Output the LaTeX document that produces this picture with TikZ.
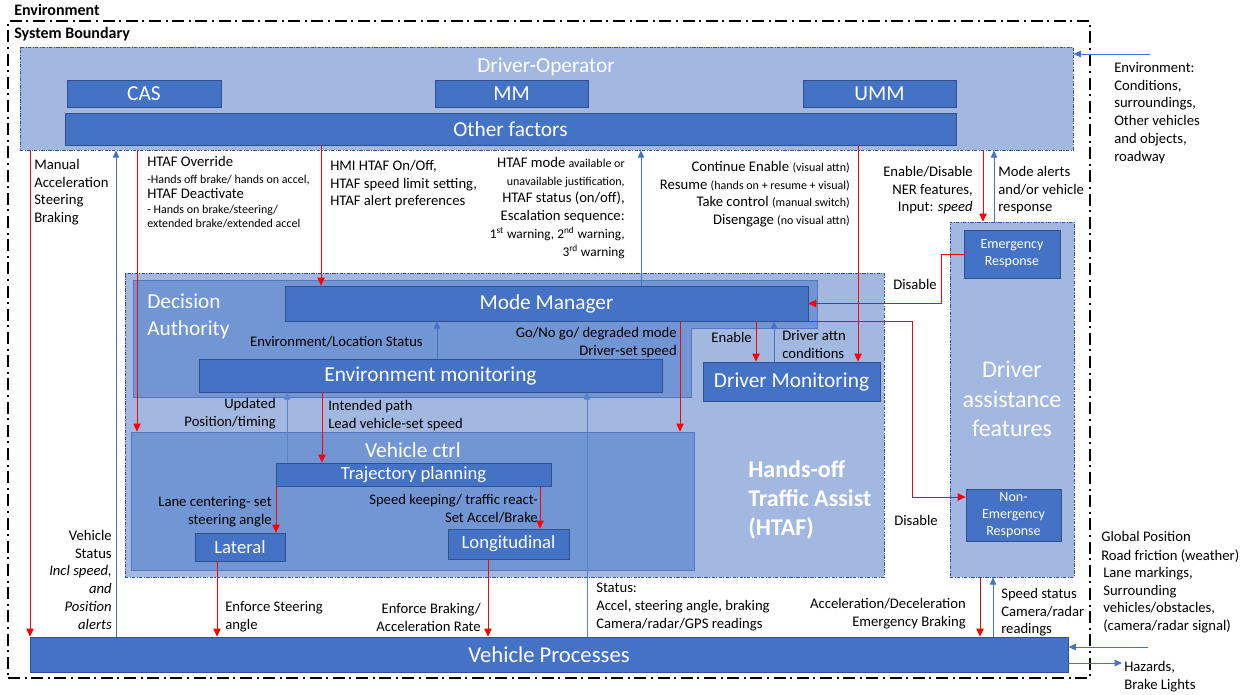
\documentclass[tikz,border=0pt]{standalone}
\usepackage{fontspec}
\setmainfont{Carlito}
\usetikzlibrary{arrows.meta,fit}

\definecolor{panelfill}{HTML}{A2B8E1}
\definecolor{midfill}{HTML}{7196D3}
\definecolor{midedge}{HTML}{5577BD}
\definecolor{darkfill}{HTML}{4472C4}
\definecolor{darkedge}{HTML}{2F528F}
\definecolor{dashblue}{HTML}{2F5597}
\definecolor{arrowblue}{HTML}{4472C4}
\definecolor{faintblue}{HTML}{5A82C9}

\newcommand{\ftbig}{\fontsize{16}{19.5}\selectfont}
\newcommand{\ftvp}{\fontsize{17}{20}\selectfont}
\newcommand{\ftmed}{\fontsize{14}{17}\selectfont}
\newcommand{\ftnorm}{\fontsize{11}{13.3}\selectfont}
\newcommand{\ftsm}{\fontsize{9}{11}\selectfont}
\newcommand{\ftten}{\fontsize{10}{12}\selectfont}
\newcommand{\ftbox}{\fontsize{10.5}{12.75}\selectfont}
\newcommand{\fthuge}{\fontsize{18}{22}\selectfont}

\tikzset{
  envline/.style={draw=black, line width=1.1pt, dash pattern=on 9pt off 3.5pt on 1.4pt off 3.5pt, inner sep=0pt},
  panel/.style={draw=dashblue, fill=panelfill, line width=0.6pt, dash pattern=on 2.5pt off 1pt on 0.8pt off 1pt, inner sep=0pt},
  midbox/.style={draw=midedge, fill=midfill, line width=0.6pt, inner sep=0pt},
  darkbox/.style={draw=darkedge, fill=darkfill, line width=0.6pt, text=white, inner sep=0pt},
  sz/.style 2 args={minimum width={#1*0.75pt}, minimum height={#2*0.75pt}},
  ra/.style={draw=red, line width=0.75pt, -{Triangle[length=6pt,width=5.5pt]}},
  ba/.style={draw=arrowblue, line width=0.75pt, -{Triangle[length=5.5pt,width=4.8pt]}},
  bf/.style={draw=faintblue, line width=0.75pt, -{Triangle[length=5.5pt,width=4.8pt]}},
  lbl/.style={inner sep=0pt, font=\ftnorm, text=black},
  wlbl/.style={inner sep=0pt, text=white},
}

\begin{document}
\begin{tikzpicture}[x=0.75pt,y=-0.75pt]
\useasboundingbox[fill=white] (0,0) rectangle (1248,694);

% environment / system boundary
\node[envline, fit={(8,21)(1090,678)}] (envb) {};
\node[anchor=west, inner sep=0pt, font=\fontsize{12}{14}\selectfont\bfseries] (envt) at (14,10) {Environment};
\node[anchor=west, inner sep=0pt, font=\fontsize{12}{14}\selectfont\bfseries] (sbt) at (14,34) {System Boundary};

% large panels
\node[panel, fit={(20,47)(1073,150)}] (drvop) {};
\node[panel, fit={(125,273)(884,577)}] (htaf) {};
\node[panel, fit={(950,222)(1074,577)}] (dafeat) {};

% decision authority outline and vehicle control block
\draw[midbox] (133,280) -- (817,280) -- (817,328) -- (691,328) -- (691,397) -- (133,397) -- cycle;
\node[midbox, fit={(131,432)(694,570)}] (vctrl) {};

% driver-operator contents
\node[wlbl, font=\ftbig] (drvoplbl) at (546,67) {Driver-Operator};
\node[darkbox, sz={154}{27}, font=\ftbig] (cas) at (144,93.5) {CAS};
\node[darkbox, sz={153}{27}, font=\ftbig] (mmx) at (511.5,93.5) {MM};
\node[darkbox, sz={153}{27}, font=\ftbig] (umm) at (879.5,93.5) {UMM};
\node[darkbox, sz={891}{32}, font=\ftbig] (other) at (510.5,129) {Other factors};

% HTAF contents
\node[darkbox, sz={523}{35}, font=\ftbig] (mm) at (546.5,303.5) {Mode Manager};
\node[darkbox, sz={463}{33}, font=\ftbig] (envmon) at (430.5,375.5) {Environment monitoring};
\node[darkbox, sz={177}{39}, font=\ftbig] (dm) at (791.5,381.5) {Driver Monitoring};
\node[wlbl, font=\ftbig] (vctrllbl) at (413,450) {Vehicle ctrl};
\node[darkbox, sz={275}{23}, font=\ftmed] (tp) at (413.5,474.5) {Trajectory planning};
\node[darkbox, sz={90}{28}, font=\ftmed] (lat) at (240,547) {Lateral};
\node[darkbox, sz={121}{30}, font=\ftmed] (lon) at (508.5,544) {Longitudinal};
\node[wlbl, anchor=north west, align=left, font=\ftbig] (dalbl) at (147,294) {Decision\\[0.5pt]Authority};
\node[wlbl, anchor=north west, align=left, font=\fthuge\bfseries] (htaflbl) at (748,460) {Hands-off\\Traffic Assist\\(HTAF)};

% driver assistance features
\node[darkbox, sz={96}{48}, font=\ftbox, align=center] (er) at (1012,254) {Emergency\\Response};
\node[darkbox, sz={95}{52}, font=\ftbox, align=center] (ner) at (1013.5,515) {Non-\\Emergency\\Response};
\node[wlbl, align=center, font=\fthuge] (dalbl2) at (1012,399) {Driver\\assistance\\features};

% vehicle processes
\node[darkbox, sz={1038}{35}, font=\ftvp] (vp) at (549,654.5) {Vehicle Processes};

% vertical connector lines
\foreach \xx in {30,116,137,321,641,858,983,994,437,680,756,774,287,322,587,276,540,217,488,980,993}
  \coordinate (x\xx) at (\xx,0);

\draw[ra] (drvop.south -| x30) -- (vp.north -| x30);
\draw[ba] (vp.north -| x116) -- (drvop.south -| x116);
\draw[ra] (drvop.south -| x137) -- (vctrl.north -| x137);
\draw[ra] (other.south -| x321) -- (mm.north -| x321);
\draw[ba] (mm.north -| x641) -- (drvop.south -| x641);
\draw[ra] (other.south -| x858) -- (dm.north -| x858);
\draw[ra] (drvop.south -| x983) -- (dafeat.north -| x983);
\draw[ba] (dafeat.north -| x994) -- (drvop.south -| x994);

\draw[ba] (envmon.north -| x437) -- (mm.south -| x437);
\draw[ra] (mm.south -| x680) -- (vctrl.north -| x680);
\draw[ra] (mm.south -| x756) -- (dm.north -| x756);
\draw[ba] (dm.north -| x774) -- (mm.south -| x774);
\draw[bf] (tp.north -| x287) -- (envmon.south -| x287);
\draw[ra] (envmon.south -| x322) -- (tp.north -| x322);
\draw[bf] (vp.north -| x587) -- (envmon.south -| x587);
\draw[ra] (tp.south -| x276) -- (lat.north -| x276);
\draw[ra] (tp.south -| x540) -- (lon.north -| x540);
\draw[ra] (lat.south -| x217) -- (vp.north -| x217);
\draw[ra] (lon.south -| x488) -- (vp.north -| x488);
\draw[ra] (dafeat.south -| x980) -- (vp.north -| x980);
\draw[ba] (vp.north -| x993) -- (dafeat.south -| x993);

% elbow connectors to and from the driver assistance features
\coordinate (jer) at (941,280);
\draw[ra] (er.west) -| (jer) |- (mm.east);
\coordinate (jner) at (912,400);
\draw[ra] (mm.south east) -| (jner) |- ([yshift=13.5pt]ner.west);

% environment inputs and outputs
\coordinate (envsrc) at (1150,54);
\draw[ba] (envsrc) -- (envsrc -| drvop.east);
\coordinate (gpsrc) at (1148,647);
\draw[ba] (gpsrc) -- (gpsrc -| vp.east);
\coordinate (hzdst) at (1122,663);
\draw[ba] (hzdst -| vp.east) -- (hzdst);

% connector labels
\node[lbl, anchor=north west, align=left] (t1) at (34,159) {Manual\\Acceleration\\Steering\\Braking};
\node[lbl, anchor=north east, align=right] (t2) at (112,530) {Vehicle\\Status\\\textit{Incl speed,}\\\textit{and}\\\textit{Position}\\\textit{alerts}};
\node[lbl, anchor=north west, align=left] (t3) at (147,156) {HTAF Override\\[-0.5pt]{\ftsm -Hands off brake/ hands on accel,}\\[-2pt]HTAF Deactivate\\[-2pt]{\ftsm - Hands on brake/steering/}\\[-2.8pt]{\ftsm extended brake/extended accel}};
\node[lbl, anchor=north west, align=left] (t4) at (330,160) {HMI HTAF On/Off,\\HTAF speed limit setting,\\HTAF alert preferences};
\node[lbl, anchor=north east, align=right] (t5) at (625,157) {HTAF mode {\ftsm available or}\\{\ftsm unavailable justification,}\\HTAF status (on/off),\\Escalation sequence:\\{\ftten 1\textsuperscript{st} warning, 2\textsuperscript{nd} warning,}\\{\ftten 3\textsuperscript{rd} warning}};
\node[lbl, anchor=north east, align=right] (t6) at (850,161) {Continue Enable {\ftsm (visual attn)}\\Resume {\ftsm (hands on + resume + visual)}\\Take control {\ftsm (manual switch)}\\Disengage {\ftsm (no visual attn)}};
\node[lbl, anchor=north east, align=right] (t7) at (973,166) {Enable/Disable\\NER features,\\Input: \textit{speed}};
\node[lbl, anchor=north west, align=left] (t8) at (998,166) {Mode alerts\\and/or vehicle\\response};
\node[lbl, anchor=north west, align=left] (t9) at (1114,62) {Environment:\\Conditions,\\surroundings,\\Other vehicles\\and objects,\\roadway};
\node[lbl, anchor=north east] (t10) at (423,336) {Environment/Location Status};
\node[lbl, anchor=north east, align=right] (t11) at (677,327) {Go/No go/ degraded mode\\Driver-set speed};
\node[lbl, anchor=north east] (t12) at (752,332) {Enable};
\node[lbl, anchor=north west, align=left] (t13) at (782,330) {Driver attn\\conditions};
\node[lbl, anchor=north east, align=right] (t14) at (276,398) {Updated\\Position/timing};
\node[lbl, anchor=north west, align=left] (t15) at (328,400) {Intended path\\Lead vehicle-set speed};
\node[lbl, anchor=north east, align=right] (t16) at (272,496) {Lane centering- set\\steering angle};
\node[lbl, anchor=north east, align=right] (t17) at (538,494) {Speed keeping/ traffic react-\\Set Accel/Brake};
\node[lbl] (t18) at (915,284) {Disable};
\node[lbl] (t19) at (916,520) {Disable};
\node[lbl, anchor=north west, align=left] (t20) at (225,601) {Enforce Steering\\angle};
\node[lbl, anchor=north east, align=right] (t21) at (481,603) {Enforce Braking/\\Acceleration Rate};
\node[lbl, anchor=north west, align=left] (t22) at (596,583) {Status:\\Accel, steering angle, braking\\Camera/radar/GPS readings};
\node[lbl, anchor=north east, align=right] (t23) at (966,598) {Acceleration/Deceleration\\Emergency Braking};
\node[lbl, anchor=north west, align=left] (t24) at (1001,588) {Speed status\\Camera/radar\\readings};
\node[lbl, anchor=west] (t25) at (1101,536) {Global Position};
\node[lbl, anchor=west] (t26) at (1101,556) {Road friction (weather)};
\node[lbl, anchor=north west, align=left] (t27) at (1103,567) {Lane markings,\\Surrounding\\vehicles/obstacles,\\(camera/radar signal)};
\node[lbl, anchor=north west, align=left] (t28) at (1124,661) {Hazards,\\Brake Lights};

\end{tikzpicture}
\end{document}
